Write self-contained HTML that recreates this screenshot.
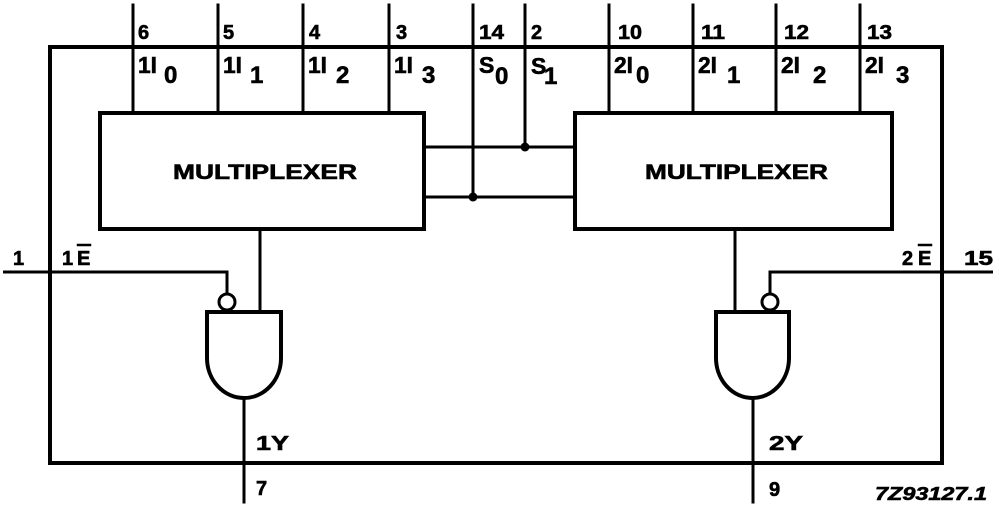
<!DOCTYPE html>
<html><head><meta charset="utf-8"><style>
html,body{margin:0;padding:0;background:#fff;}
svg{display:block;}
text{font-family:"Liberation Sans",Arial,sans-serif;font-weight:bold;fill:#000;stroke:#000;stroke-width:0.6;}
</style></head><body>
<svg width="1000" height="507" viewBox="0 0 1000 507" xmlns="http://www.w3.org/2000/svg">
<g stroke="#000" fill="none" stroke-linecap="square">
<rect x="50" y="47" width="892" height="416" stroke-width="4"/>
<g stroke-width="3">
<line x1="133" y1="5" x2="133" y2="113"/>
<line x1="218" y1="5" x2="218" y2="113"/>
<line x1="303" y1="5" x2="303" y2="113"/>
<line x1="389" y1="5" x2="389" y2="113"/>
<line x1="473" y1="5" x2="473" y2="197"/>
<line x1="525" y1="5" x2="525" y2="147"/>
<line x1="609" y1="5" x2="609" y2="113"/>
<line x1="693" y1="5" x2="693" y2="113"/>
<line x1="776" y1="5" x2="776" y2="113"/>
<line x1="860" y1="5" x2="860" y2="113"/>
<line x1="424" y1="147" x2="575" y2="147"/>
<line x1="424" y1="197" x2="575" y2="197"/>
<line x1="260" y1="229" x2="260" y2="312"/>
<line x1="735" y1="229" x2="735" y2="312"/>
<line x1="244" y1="398" x2="244" y2="502"/>
<line x1="753" y1="398" x2="753" y2="502"/>
<polyline points="3,272 227,272 227,293" stroke-linecap="butt"/>
<polyline points="993,272 770,272 770,293" stroke-linecap="butt"/>
<circle cx="227" cy="302" r="8"/>
<circle cx="770" cy="302" r="8"/>
</g>
<rect x="100" y="113" width="324" height="116" stroke-width="4"/>
<rect x="575" y="113" width="317" height="116" stroke-width="4"/>
<path d="M207,312 H281 V358 A37,40 0 0 1 207,358 Z" stroke-width="4"/>
<path d="M716,312 H789 V358 A36.5,40 0 0 1 716,358 Z" stroke-width="4"/>
<line x1="78" y1="245" x2="90" y2="245" stroke-width="2.5"/>
<line x1="919" y1="245" x2="931" y2="245" stroke-width="2.5"/>
</g>
<circle cx="525" cy="147" r="4.5" fill="#000"/>
<circle cx="473" cy="197" r="4.5" fill="#000"/>

<g font-size="20">
<text x="138" y="39">6</text>
<text x="223" y="39">5</text>
<text x="309" y="39">4</text>
<text x="396" y="39">3</text>
<text x="479" y="39" textLength="25" lengthAdjust="spacingAndGlyphs">14</text>
<text x="531" y="39">2</text>
<text x="618" y="39" textLength="24" lengthAdjust="spacingAndGlyphs">10</text>
<text x="701" y="39" textLength="24" lengthAdjust="spacingAndGlyphs">11</text>
<text x="784" y="39" textLength="25" lengthAdjust="spacingAndGlyphs">12</text>
<text x="867" y="39" textLength="25" lengthAdjust="spacingAndGlyphs">13</text>
</g>
<g font-size="23">
<text x="138" y="73" textLength="19" lengthAdjust="spacingAndGlyphs">1I</text>
<text x="223" y="73" textLength="19" lengthAdjust="spacingAndGlyphs">1I</text>
<text x="308" y="73" textLength="19" lengthAdjust="spacingAndGlyphs">1I</text>
<text x="394" y="73" textLength="19" lengthAdjust="spacingAndGlyphs">1I</text>
<text x="479" y="73">S</text>
<text x="531" y="74">S</text>
<text x="614" y="73" textLength="19" lengthAdjust="spacingAndGlyphs">2I</text>
<text x="698" y="73" textLength="19" lengthAdjust="spacingAndGlyphs">2I</text>
<text x="781" y="73" textLength="19" lengthAdjust="spacingAndGlyphs">2I</text>
<text x="865" y="73" textLength="19" lengthAdjust="spacingAndGlyphs">2I</text>
</g>
<g font-size="24">
<text x="164" y="83">0</text>
<text x="250" y="83">1</text>
<text x="336" y="83">2</text>
<text x="422" y="83">3</text>
<text x="495" y="84">0</text>
<text x="544" y="84">1</text>
<text x="636" y="83">0</text>
<text x="727" y="83">1</text>
<text x="813" y="83">2</text>
<text x="896" y="83">3</text>
</g>
<text x="173" y="179" font-size="21" textLength="184" lengthAdjust="spacingAndGlyphs">MULTIPLEXER</text>
<text x="645" y="179" font-size="21" textLength="183" lengthAdjust="spacingAndGlyphs">MULTIPLEXER</text>
<g font-size="20">
<text x="13" y="265">1</text>
<text x="62" y="265">1</text>
<text x="77" y="265">E</text>
<text x="902" y="265">2</text>
<text x="918" y="265">E</text>
<text x="964" y="265" textLength="29" lengthAdjust="spacingAndGlyphs">15</text>
<text x="256" y="450" textLength="33" lengthAdjust="spacingAndGlyphs">1Y</text>
<text x="256" y="495">7</text>
<text x="769" y="450" textLength="34" lengthAdjust="spacingAndGlyphs">2Y</text>
<text x="769" y="496">9</text>
</g>
<text x="875" y="500" font-size="18" font-style="italic" textLength="112" lengthAdjust="spacingAndGlyphs">7Z93127.1</text>
</svg>
</body></html>
